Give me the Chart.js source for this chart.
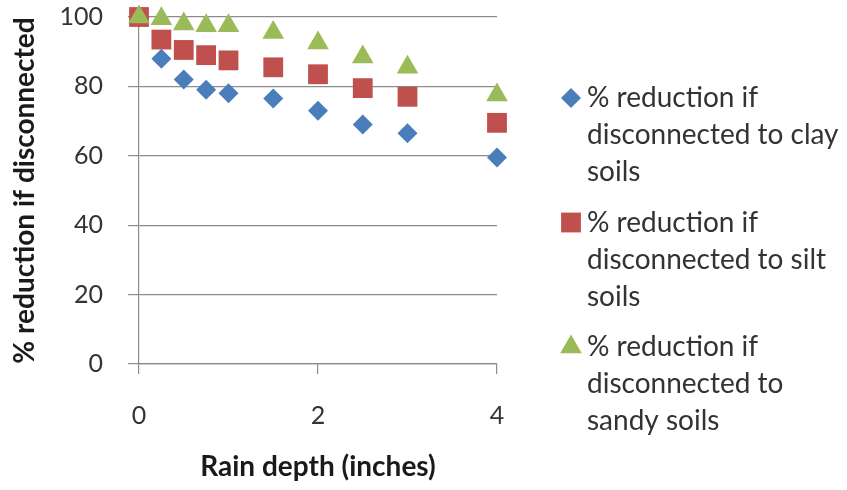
<!DOCTYPE html>
<html>
<head>
<meta charset="UTF-8">
<title>Rain depth</title>
<script src="https://cdn.jsdelivr.net/npm/chart.js@4/dist/chart.umd.min.js"></script>
<style>
  body { margin: 0; background: #fff; }
</style>
</head>
<body>
<canvas id="canvas" width="847" height="490"></canvas>
<script>
// rain depth in inches
var depth = [0, 0.25, 0.5, 0.75, 1, 1.5, 2, 2.5, 3, 4];
var clay  = [100, 88, 82, 79, 78, 76.5, 73, 69, 66.5, 59.5];
var silt  = [100, 93.5, 90.5, 89, 87.5, 85.5, 83.5, 79.5, 77, 69.5];
var sandy = [100, 99.5, 98, 97.5, 97.5, 95.5, 92.5, 88.5, 85.5, 77.5];
var xTicks = [0, 2, 4];
var yTicks = [0, 20, 40, 60, 80, 100];
var names = [
  ['% reduction if', 'disconnected to clay', 'soils'],
  ['% reduction if', 'disconnected to silt', 'soils'],
  ['% reduction if', 'disconnected to', 'sandy soils']
];

var FONT = 'Lato, "Open Sans", sans-serif';
var GRID = '#8c8c8c';

function pts(vals) {
  return depth.map(function(d, i) { return { x: d, y: vals[i] }; });
}

// legend drawn at the right, one marker per entry and wrapped text
var sideLegend = {
  id: 'sideLegend',
  afterDraw: function(chart) {
    var ctx = chart.ctx;
    ctx.save();
    chart.data.datasets.forEach(function(ds, i) {
      var y0 = 98 + i * 124.5;
      ctx.fillStyle = ds.backgroundColor;
      Chart.helpers.drawPoint(ctx, {
        pointStyle: ds.pointStyle, radius: ds.pointRadius, borderWidth: 0, rotation: 0
      }, 571, y0);
      ctx.fillStyle = '#333';
      ctx.font = '28px ' + FONT;
      ctx.textBaseline = 'middle';
      ctx.textAlign = 'left';
      names[i].forEach(function(line, j) {
        ctx.fillText(line, 587, y0 + j * 37);
      });
    });
    ctx.restore();
  }
};

// order: sandy drawn on top, clay underneath (as in Excel)
var config = {
  type: 'scatter',
  data: {
    datasets: [
      { label: names[0].join(' '), data: pts(clay), pointStyle: 'rectRot', pointRadius: 10, order: 2,
        backgroundColor: '#4a7ebb', borderWidth: 0, clip: false },
      { label: names[1].join(' '), data: pts(silt), pointStyle: 'rect', pointRadius: 14, order: 1,
        backgroundColor: '#c0504d', borderWidth: 0, clip: false },
      { label: names[2].join(' '), data: pts(sandy), pointStyle: 'triangle', pointRadius: 12.5, order: 0,
        backgroundColor: '#9bbb59', borderWidth: 0, clip: false }
    ]
  },
  options: {
    responsive: false,
    devicePixelRatio: 1,
    animation: false,
    layout: { autoPadding: false, padding: { left: 0, right: 350, top: 17, bottom: 0 } },
    plugins: { legend: { display: false }, tooltip: { enabled: false } },
    scales: {
      x: {
        type: 'linear', min: 0, max: 4,
        afterBuildTicks: function(s) { s.ticks = xTicks.map(function(v) { return { value: v }; }); },
        afterFit: function(s) { s.height = 126; },
        grid: { drawOnChartArea: false, color: GRID, tickLength: 10, lineWidth: 1.2 },
        border: { color: GRID, width: 1.2 },
        ticks: { color: '#333', padding: 27, font: { family: FONT, size: 25 } },
        title: { display: true, text: 'Rain depth (inches)', color: '#1a1a1a', padding: { top: 0, bottom: 6 },
          font: { family: FONT, size: 28, weight: 'bold' } }
      },
      y: {
        min: 0, max: 100,
        afterBuildTicks: function(s) { s.ticks = yTicks.map(function(v) { return { value: v }; }); },
        afterFit: function(s) { s.width = 139; s.paddingTop = 0; s.paddingBottom = 0; },
        grid: { color: GRID, tickLength: 11, lineWidth: 1.2 },
        border: { color: GRID, width: 1.2 },
        ticks: { color: '#333', padding: 25, font: { family: FONT, size: 25 } },
        title: { display: true, text: '% reduction if disconnected', color: '#1a1a1a', padding: { top: 8, bottom: 0 },
          font: { family: FONT, size: 28, weight: 'bold' } }
      }
    }
  },
  plugins: [sideLegend]
};

new Chart(document.getElementById('canvas').getContext('2d'), config);
</script>
</body>
</html>
